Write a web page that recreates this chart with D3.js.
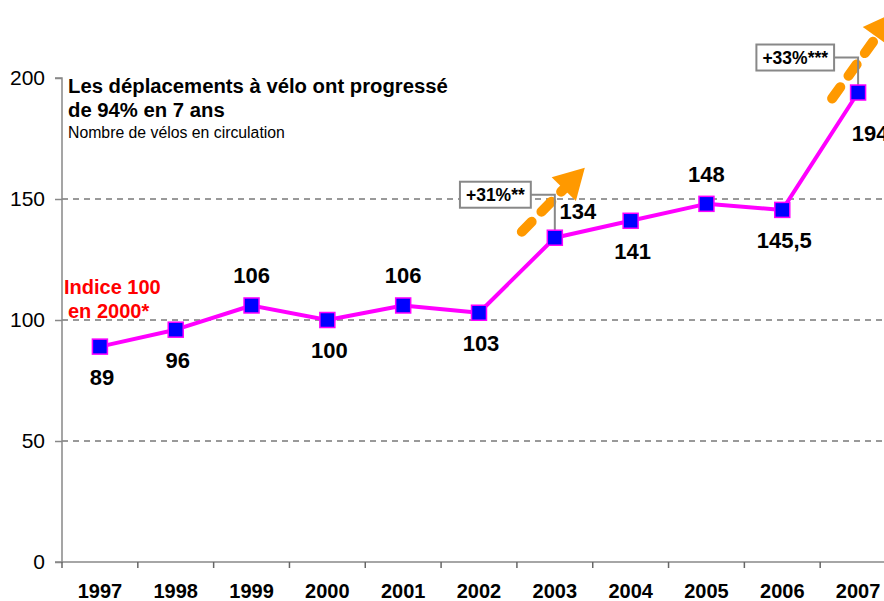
<!DOCTYPE html>
<html>
<head>
<meta charset="utf-8">
<script src="https://cdn.jsdelivr.net/npm/d3@7/dist/d3.min.js"></script>
<style>
  html, body { margin: 0; padding: 0; background: #fff; }
  svg { display: block; font-family: "Liberation Sans", Arial, sans-serif; }
</style>
</head>
<body>
<svg id="chart" width="884" height="601"></svg>
<script>
// Index of bicycles in circulation (base 100 in 2000)
const years = ["1997", "1998", "1999", "2000", "2001", "2002", "2003", "2004", "2005", "2006", "2007"];
const values = [89, 96, 106, 100, 106, 103, 134, 141, 148, 145.5, 194];
const valueLabels = ["89", "96", "106", "100", "106", "103", "134", "141", "148", "145,5", "194"];
const yTicks = [0, 50, 100, 150, 200];
const gridValues = [50, 100, 150];
// label placement relative to each point
const labelPos = ["below", "below", "above", "below", "above", "below", "rightUp", "below", "above", "below", "rightDown"];
const growthNotes = [
  { year: "2003", text: "+31%**" },
  { year: "2007", text: "+33%***" }
];

const svg = d3.select("#chart");
const plotLeft = 62, plotRight = 896, plotTop = 78, plotBottom = 562;
const FONT = "Liberation Sans, Arial, sans-serif";

const x = d3.scaleBand().domain(years).range([plotLeft, plotRight]);
const y = d3.scaleLinear().domain([0, 200]).range([plotBottom, plotTop]);
const cx = d => x(d) + x.bandwidth() / 2;

// dashed grid lines
svg.append("g").selectAll("line").data(gridValues).join("line")
  .attr("x1", plotLeft).attr("x2", 884)
  .attr("y1", d => y(d)).attr("y2", d => y(d))
  .attr("stroke", "#000").attr("stroke-width", 0.8)
  .attr("stroke-dasharray", "6,5");

// y axis
const yAxis = svg.append("g").attr("transform", `translate(${plotLeft},0)`)
  .call(d3.axisLeft(y).tickValues(yTicks).tickSize(7).tickPadding(10).tickFormat(d3.format("d")));
yAxis.select(".domain").attr("stroke", "#888").attr("stroke-width", 1.5).attr("d", `M-7,${plotTop}H0V${plotBottom}H-7`);
yAxis.selectAll(".tick line").attr("stroke", "#888").attr("stroke-width", 1.5);
yAxis.selectAll(".tick text").attr("font-size", 21).attr("fill", "#000").attr("font-family", FONT);

// x axis
const xAxis = svg.append("g").attr("transform", `translate(0,${plotBottom})`)
  .call(d3.axisBottom(x).tickSize(0).tickPadding(22));
xAxis.select(".domain").remove();
xAxis.append("line").attr("x1", plotLeft).attr("x2", 884).attr("y1", 0).attr("y2", 0)
  .attr("stroke", "#888").attr("stroke-width", 1.5);
xAxis.selectAll(".sep").data(years.concat(["end"])).join("line")
  .attr("class", "sep")
  .attr("x1", (d, i) => plotLeft + i * x.bandwidth()).attr("x2", (d, i) => plotLeft + i * x.bandwidth())
  .attr("y1", 0).attr("y2", 6).attr("stroke", "#666").attr("stroke-width", 1.5);
xAxis.selectAll(".tick text").attr("font-size", 20).attr("font-weight", "bold").attr("fill", "#000")
  .attr("font-family", FONT);

// growth arrows (orange, dashed shaft + head)
function arrow(x0, y0, x1, y1) {
  const g = svg.append("g");
  const ang = Math.atan2(y1 - y0, x1 - x0);
  const headLen = 30, headW = 17;
  const bx = x1 - headLen * Math.cos(ang), by = y1 - headLen * Math.sin(ang);
  g.append("line").attr("x1", x0).attr("y1", y0).attr("x2", bx + 4 * Math.cos(ang)).attr("y2", by + 4 * Math.sin(ang))
    .attr("stroke", "#FF9900").attr("stroke-width", 10).attr("stroke-linecap", "round")
    .attr("stroke-dasharray", "14,14");
  const px = -Math.sin(ang), py = Math.cos(ang);
  g.append("path")
    .attr("d", `M${x1},${y1}L${bx + px * headW},${by + py * headW}L${bx - px * headW},${by - py * headW}Z`)
    .attr("fill", "#FF9900");
}
arrow(cx("2003") - 33, y(134) - 6, cx("2003") + 30, y(134) - 70);
arrow(cx("2007") - 26, y(194) + 6, cx("2007") + 36, y(194) - 80);

// growth boxes with connector to the point
const boxRise = { "2003": 56, "2007": 48 };
growthNotes.forEach(n => {
  const i = years.indexOf(n.year);
  const px = cx(n.year), py = y(values[i]);
  const g = svg.append("g");
  const txt = g.append("text").text(n.text)
    .attr("font-size", 17.5).attr("font-weight", "bold").attr("fill", "#000");
  const w = txt.node().getComputedTextLength() + 12, h = 26;
  const bx = px - 24 - w, byTop = py - boxRise[n.year];
  txt.attr("x", bx + 6).attr("y", byTop + 19);
  g.insert("rect", "text").attr("x", bx).attr("y", byTop).attr("width", w).attr("height", h)
    .attr("fill", "#fff").attr("stroke", "#888").attr("stroke-width", 2);
  g.append("path").attr("d", `M${bx + w},${byTop + h / 2}H${px}V${py - 6}`)
    .attr("fill", "none").attr("stroke", "#888").attr("stroke-width", 2);
});

// series line
const line = d3.line().x((d, i) => cx(years[i])).y(d => y(d));
svg.append("path").datum(values)
  .attr("d", line).attr("fill", "none")
  .attr("stroke", "#FF00FF").attr("stroke-width", 4).attr("stroke-linejoin", "round");

// markers
svg.append("g").selectAll("rect").data(values).join("rect")
  .attr("x", (d, i) => cx(years[i]) - 7.5).attr("y", d => y(d) - 7.5)
  .attr("width", 15).attr("height", 15)
  .attr("fill", "#0000FF").attr("stroke", "#FF00FF").attr("stroke-width", 1.5);

// value labels
const offsets = {
  below: [2, 38], above: [0, -22], rightUp: [23, -19], rightDown: [12, 48]
};
svg.append("g").selectAll("text").data(values).join("text")
  .attr("x", (d, i) => cx(years[i]) + offsets[labelPos[i]][0])
  .attr("y", (d, i) => y(d) + offsets[labelPos[i]][1])
  .attr("text-anchor", "middle")
  .attr("font-size", 22).attr("font-weight", "bold").attr("fill", "#000")
  .text((d, i) => valueLabels[i]);

// title block
svg.append("text").attr("x", 68).attr("y", 93).attr("font-size", 20.3).attr("font-weight", "bold")
  .text("Les déplacements à vélo ont progressé");
svg.append("text").attr("x", 68).attr("y", 117).attr("font-size", 20.3).attr("font-weight", "bold")
  .text("de 94% en 7 ans");
svg.append("text").attr("x", 68).attr("y", 138).attr("font-size", 15.8)
  .text("Nombre de vélos en circulation");

// base index note
svg.append("text").attr("x", 64).attr("y", 294).attr("font-size", 20).attr("font-weight", "bold").attr("fill", "#FF0000")
  .text("Indice 100");
svg.append("text").attr("x", 68).attr("y", 318).attr("font-size", 20).attr("font-weight", "bold").attr("fill", "#FF0000")
  .text("en 2000*");
</script>
</body>
</html>
